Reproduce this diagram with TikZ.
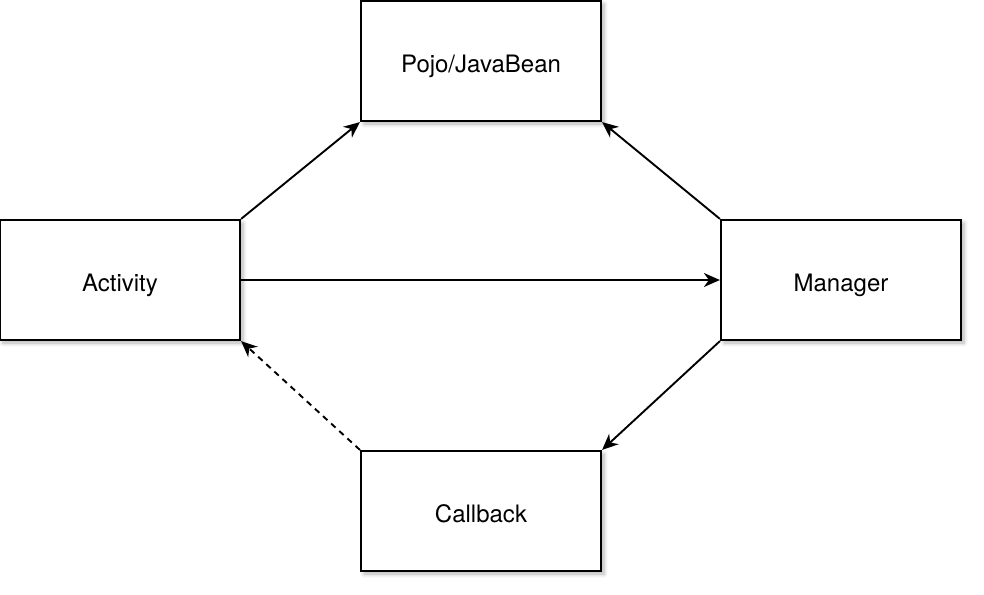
\documentclass[tikz,border=0pt]{standalone}
\usepackage{fontspec}
\setmainfont{TeX Gyre Heros}
\usetikzlibrary{arrows.meta,shadows.blur}
\tikzset{
  classbox/.style={draw, line width=2.2pt, fill=white, minimum width=240pt, minimum height=120pt,
    text height=22pt, text depth=0pt,
    blur shadow={shadow xshift=3pt, shadow yshift=-3pt, shadow blur steps=6, shadow blur radius=4pt, shadow opacity=30}},
  link/.style={line width=1.9pt, -{Stealth[length=16pt,width=14pt,inset=5pt]}}
}
\begin{document}
\begin{tikzpicture}[x=1pt,y=-1pt,font=\fontsize{24}{28}\selectfont]
\useasboundingbox (0,0) rectangle (984,594);
% Draw boxes
\node[classbox] (pojo)     at (481,61)  {Pojo/JavaBean};
\node[classbox] (activity) at (120,280) {Activity};
\node[classbox] (manager)  at (841,280) {Manager};
\node[classbox] (callback) at (481,511) {Callback};
% Calls
\draw[link] (activity.north east) -- (pojo.south west);
\draw[link] (manager.north west) -- (pojo.south east);
\draw[link] (activity.east) -- (manager.west);
\draw[link] (manager.south west) -- (callback.north east);
% Callback back to activity
\draw[link, dash pattern=on 6pt off 5pt] (callback.north west) -- (activity.south east);
\end{tikzpicture}
\end{document}
